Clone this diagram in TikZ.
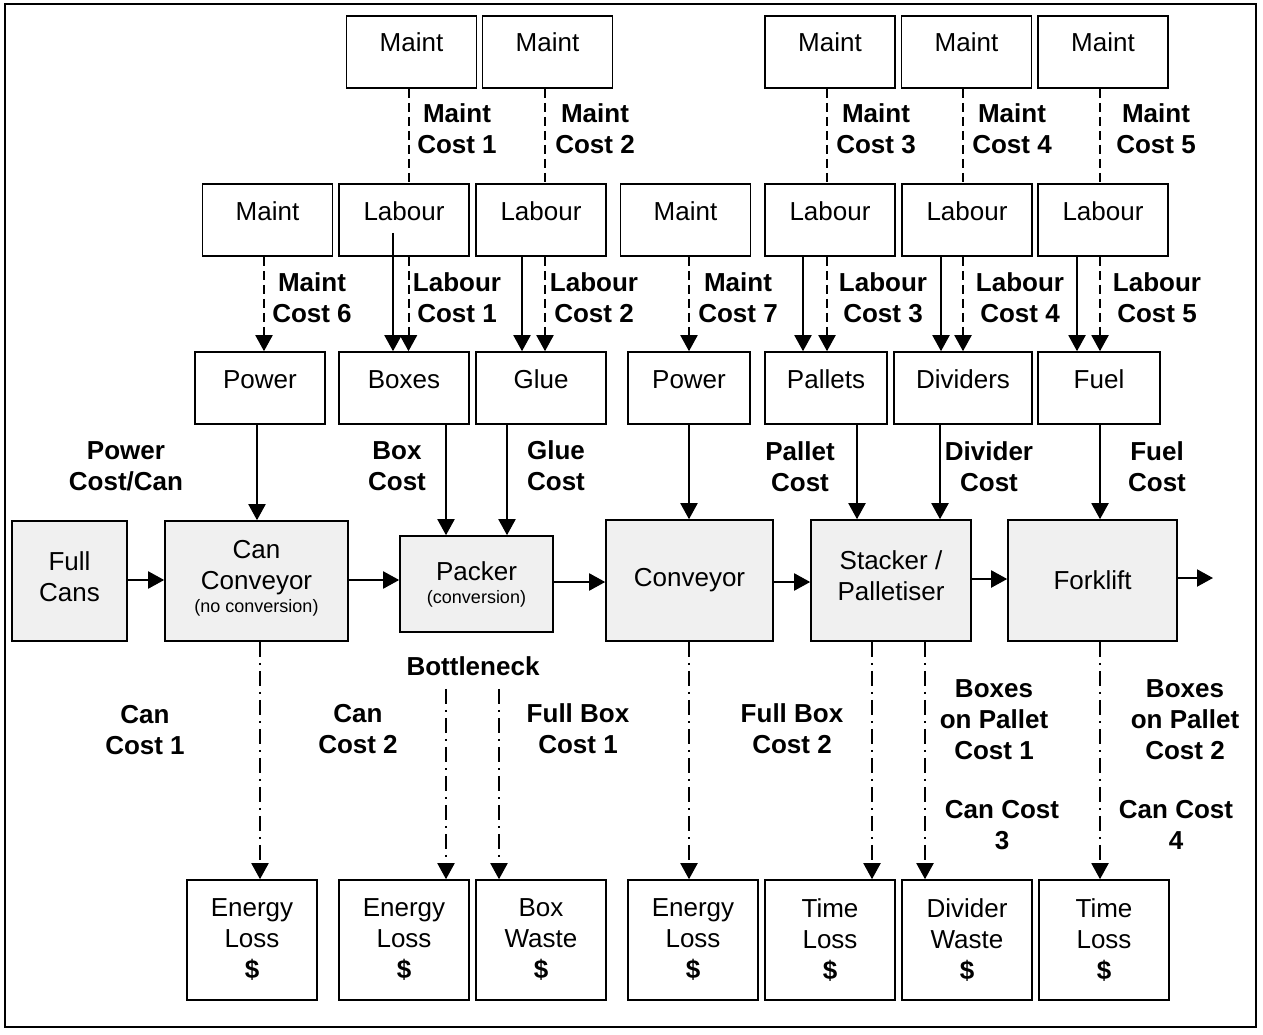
\documentclass[tikz,border=0pt]{standalone}
\usepackage{fontspec}
\setmainfont{Liberation Sans}
\usetikzlibrary{arrows.meta}
\definecolor{procgray}{HTML}{F0F0F0}

\begin{document}
\begin{tikzpicture}[x=1pt,y=-1pt,
  every node/.style={inner sep=0pt},
  bx/.style={draw, line width=1.6pt, font=\fontsize{26}{31}\selectfont},
  onebox/.style={bx, minimum width=130, minimum height=72, text height=10pt, text depth=10pt},
  proc/.style={bx, fill=procgray, align=center},
  loss/.style={bx, minimum width=130, minimum height=120, align=center},
  lbl/.style={font=\fontsize{26}{31}\selectfont\bfseries, align=center},
  tip/.style={-{Triangle[width=17pt,length=16pt]}},
  flow/.style={line width=2pt, tip},
  dsh/.style={line width=2pt, dash pattern=on 9pt off 5pt},
  dsharrow/.style={dsh, tip},
  dashdot/.style={line width=2pt, dash pattern=on 15pt off 6pt on 2pt off 6pt, tip}
]
\useasboundingbox (0,0) rectangle (1263,1035);
\draw[line width=2pt] (5,4) rectangle (1256,1027);

% top row: maintenance
\node[onebox] (m1) at (411.5,52) {Maint};
\node[onebox] (m2) at (547.5,52) {Maint};
\node[onebox] (m3) at (830,52) {Maint};
\node[onebox] (m4) at (966.5,52) {Maint};
\node[onebox] (m5) at (1103,52) {Maint};

% second row: maintenance and labour
\node[onebox] (ma) at (267.5,220) {Maint};
\node[onebox] (l1) at (404,220) {Labour};
\node[onebox] (l2) at (541,220) {Labour};
\node[onebox] (mb) at (685.5,220) {Maint};
\node[onebox] (l3) at (830,220) {Labour};
\node[onebox] (l4) at (967,220) {Labour};
\node[onebox] (l5) at (1103,220) {Labour};

% third row: consumables
\node[onebox] (pw1) at (260,388) {Power};
\node[onebox] (bxs) at (404,388) {Boxes};
\node[onebox] (gl) at (541,388) {Glue};
\node[onebox, minimum width=122] (pw2) at (689,388) {Power};
\node[onebox, minimum width=122] (pa) at (826,388) {Pallets};
\node[onebox, minimum width=138] (dv) at (963,388) {Dividers};
\node[onebox, minimum width=122] (fu) at (1099,388) {Fuel};

% process line
\node[proc, minimum width=115, minimum height=120] (fc) at (69.5,581) {Full\\Cans\\[-22pt]};
\node[proc, minimum width=183, minimum height=120] (cc) at (256.5,581)
  {Can\\Conveyor\\[-8pt]{\fontsize{18}{20}\selectfont (no conversion)}\\[-22pt]};
\node[proc, minimum width=153, minimum height=96] (pk) at (476.5,584)
  {Packer\\[-8pt]{\fontsize{18}{20}\selectfont (conversion)}};
\node[proc, minimum width=167, minimum height=121] (cv) at (689.5,580.5) {Conveyor};
\node[proc, minimum width=160, minimum height=121] (st) at (891,580.5) {Stacker /\\Palletiser\\[-22pt]};
\node[proc, minimum width=169, minimum height=121] (fk) at (1092.5,580.5) {Forklift};
\coordinate (out) at (1213,578);

% losses
\node[loss] (el1) at (252,940) {Energy\\Loss\\\textbf{\$}};
\node[loss] (el2) at (404,940) {Energy\\Loss\\\textbf{\$}};
\node[loss] (bw) at (541,940) {Box\\Waste\\\textbf{\$}};
\node[loss] (el3) at (693,940) {Energy\\Loss\\\textbf{\$}};
\node[loss] (tl1) at (830,940) {Time\\Loss\\\textbf{\$}};
\node[loss] (dw) at (967,940) {Divider\\Waste\\\textbf{\$}};
\node[loss] (tl2) at (1104,940) {Time\\Loss\\\textbf{\$}};

% maintenance of labour
\draw[dsh] (m1.south -| 408.5,0) -- (l1.north -| 408.5,0);
\draw[dsh] (m2.south -| 545,0) -- (l2.north -| 545,0);
\draw[dsh] (m3.south -| 827,0) -- (l3.north -| 827,0);
\draw[dsh] (m4.south -| 963,0) -- (l4.north -| 963,0);
\draw[dsh] (m5.south -| 1100,0) -- (l5.north -| 1100,0);

% second row to consumables
\draw[dsharrow] (ma.south -| 264,0) -- (pw1.north -| 264,0);
\draw[flow] (l1.south -| 393,0) ++(0,-24) -- (bxs.north -| 393,0);
\draw[dsharrow] (l1.south -| 408.5,0) -- (bxs.north -| 408.5,0);
\draw[flow] (l2.south -| 522,0) -- (gl.north -| 522,0);
\draw[dsharrow] (l2.south -| 545,0) -- (gl.north -| 545,0);
\draw[dsharrow] (mb.south -| 689,0) -- (pw2.north -| 689,0);
\draw[flow] (l3.south -| 803,0) -- (pa.north -| 803,0);
\draw[dsharrow] (l3.south -| 827,0) -- (pa.north -| 827,0);
\draw[flow] (l4.south -| 941,0) -- (dv.north -| 941,0);
\draw[dsharrow] (l4.south -| 963,0) -- (dv.north -| 963,0);
\draw[flow] (l5.south -| 1077,0) -- (fu.north -| 1077,0);
\draw[dsharrow] (l5.south -| 1100,0) -- (fu.north -| 1100,0);

% consumables into the process
\draw[flow] (pw1.south -| 257,0) -- (cc.north -| 257,0);
\draw[flow] (bxs.south -| 446,0) -- (pk.north -| 446,0);
\draw[flow] (gl.south -| 507,0) -- (pk.north -| 507,0);
\draw[flow] (pw2.south -| 689,0) -- (cv.north -| 689,0);
\draw[flow] (pa.south -| 857,0) -- (st.north -| 857,0);
\draw[flow] (dv.south -| 940,0) -- (st.north -| 940,0);
\draw[flow] (fu.south -| 1100,0) -- (fk.north -| 1100,0);

% process flow
\draw[flow] (fc.east |- 0,580) -- (cc.west |- 0,580);
\draw[flow] (cc.east |- 0,580) -- (pk.west |- 0,580);
\draw[flow] (pk.east |- 0,582) -- (cv.west |- 0,582);
\draw[flow] (cv.east |- 0,582) -- (st.west |- 0,582);
\draw[flow] (st.east |- 0,579) -- (fk.west |- 0,579);
\draw[flow] (fk.east |- 0,578) -- (out);

% losses from the process
\draw[dashdot] (cc.south -| 260,0) -- (el1.north -| 260,0);
\draw[dashdot] (pk.south -| 446,0) ++(0,56) -- (el2.north -| 446,0);
\draw[dashdot] (pk.south -| 499,0) ++(0,56) -- (bw.north -| 499,0);
\draw[dashdot] (cv.south -| 689,0) -- (el3.north -| 689,0);
\draw[dashdot] (st.south -| 872,0) -- (tl1.north -| 872,0);
\draw[dashdot] (st.south -| 925,0) -- (dw.north -| 925,0);
\draw[dashdot] (fk.south -| 1100,0) -- (tl2.north -| 1100,0);

% cost labels
\node[lbl] (lm1) at (457,128.5) {Maint\\Cost 1};
\node[lbl] (lm2) at (595,128.5) {Maint\\Cost 2};
\node[lbl] (lm3) at (876,129) {Maint\\Cost 3};
\node[lbl] (lm4) at (1012,129) {Maint\\Cost 4};
\node[lbl] (lm5) at (1156,129) {Maint\\Cost 5};
\node[lbl] (lm6) at (312,298) {Maint\\Cost 6};
\node[lbl] (ll1) at (457,298) {Labour\\Cost 1};
\node[lbl] (ll2) at (594,298) {Labour\\Cost 2};
\node[lbl] (lm7) at (738,298) {Maint\\Cost 7};
\node[lbl] (ll3) at (883,298) {Labour\\Cost 3};
\node[lbl] (ll4) at (1020,298) {Labour\\Cost 4};
\node[lbl] (ll5) at (1157,298) {Labour\\Cost 5};
\node[lbl] (lpw) at (126,466) {Power\\Cost/Can};
\node[lbl] (lbx) at (397,466) {Box\\Cost};
\node[lbl] (lgl) at (556,466) {Glue\\Cost};
\node[lbl] (lpa) at (800,467) {Pallet\\Cost};
\node[lbl] (ldv) at (989,467) {Divider\\Cost};
\node[lbl] (lfu) at (1157,467) {Fuel\\Cost};
\node[lbl] (lbn) at (473,666) {Bottleneck};
\node[lbl] (lc1) at (145,730) {Can\\Cost 1};
\node[lbl] (lc2) at (358,729) {Can\\Cost 2};
\node[lbl] (lfb1) at (578,729) {Full Box\\Cost 1};
\node[lbl] (lfb2) at (792,729) {Full Box\\Cost 2};
\node[lbl] (lbp1) at (994,720) {Boxes\\on Pallet\\Cost 1};
\node[lbl] (lc3) at (1002,825) {Can Cost\\3};
\node[lbl] (lbp2) at (1185,720) {Boxes\\on Pallet\\Cost 2};
\node[lbl] (lc4) at (1176,825) {Can Cost\\4};
\end{tikzpicture}
\end{document}
